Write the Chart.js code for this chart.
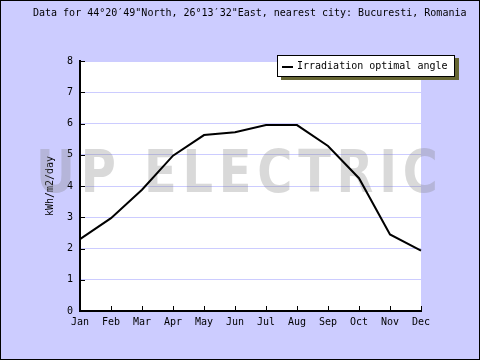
<!DOCTYPE html>
<html>
<head>
<meta charset="utf-8">
<script src="https://cdn.jsdelivr.net/npm/chart.js@4.4.1/dist/chart.umd.min.js"></script>
<style>
    body { margin: 0; background: #ccccff; }
    canvas { display: block; }
</style>
</head>
<body>
<canvas id="Chart1" width="480" height="360"></canvas>
<script>
const months = ['Jan', 'Feb', 'Mar', 'Apr', 'May', 'Jun', 'Jul', 'Aug', 'Sep', 'Oct', 'Nov', 'Dec'];
const irradiation = [2.30, 2.97, 3.88, 4.97, 5.63, 5.72, 5.95, 5.95, 5.28, 4.25, 2.45, 1.93];
const seriesLabel = 'Irradiation optimal angle';
const chartTitle = 'Data for 44°20′49"North, 26°13′32"East, nearest city: Bucuresti, Romania';
const yAxisTitle = 'kWh/m2/day';
const watermark = 'UP ELECTRIC';

const mono = "'DejaVu Sans Mono', monospace";

// backgrounds: lavender page, white plot area
const backgroundPlugin = {
    id: 'bg',
    beforeDraw: function (chart) {
        const ctx = chart.ctx;
        const a = chart.chartArea;
        ctx.save();
        ctx.fillStyle = '#ccccff';
        ctx.fillRect(0, 0, chart.width, chart.height);
        ctx.fillStyle = '#ffffff';
        ctx.fillRect(a.left, a.top, a.right - a.left, a.bottom - a.top);
        ctx.restore();
    }
};

// grey "UP ELECTRIC" stamp behind the line
const watermarkPlugin = {
    id: 'watermark',
    beforeDatasetsDraw: function (chart) {
        const ctx = chart.ctx;
        ctx.save();
        ctx.font = "bold 50px 'DejaVu Sans', sans-serif";
        ctx.letterSpacing = '6px';
        ctx.textBaseline = 'alphabetic';
        const w = ctx.measureText(watermark).width - 6;
        ctx.translate(36, 192);
        ctx.scale(402 / w, 43 / 36.5);
        ctx.fillStyle = 'rgba(128,128,128,0.3)';
        ctx.fillText(watermark, 0, 0);
        ctx.restore();
    }
};

// inward tick marks, legend box, title, frame
const extrasPlugin = {
    id: 'extras',
    afterDraw: function (chart) {
        const ctx = chart.ctx;
        const a = chart.chartArea;
        const xs = chart.scales.x;
        const ys = chart.scales.y;
        ctx.save();
        ctx.strokeStyle = '#000';
        ctx.lineWidth = 1;
        ctx.beginPath();
        for (let i = 0; i < ys.ticks.length; i++) {
            const y = Math.round(ys.getPixelForTick(i)) + 0.5;
            ctx.moveTo(a.left, y);
            ctx.lineTo(a.left + 5, y);
        }
        for (let i = 0; i < xs.ticks.length; i++) {
            const x = Math.round(xs.getPixelForTick(i)) + 0.5;
            ctx.moveTo(x, a.bottom);
            ctx.lineTo(x, a.bottom - 5);
        }
        ctx.stroke();

        // legend
        ctx.fillStyle = '#666633';
        ctx.fillRect(281, 58, 178, 22);
        ctx.fillStyle = '#ffffff';
        ctx.fillRect(277, 55, 178, 22);
        ctx.strokeRect(277.5, 55.5, 177, 21);
        ctx.lineWidth = 2;
        ctx.beginPath();
        ctx.moveTo(282, 67);
        ctx.lineTo(293, 67);
        ctx.stroke();
        ctx.fillStyle = '#000';
        ctx.font = '10px ' + mono;
        ctx.textBaseline = 'middle';
        ctx.textAlign = 'left';
        ctx.fillText(chart.data.datasets[0].label, 297, 66);

        // title
        ctx.fillText(chartTitle, 33, 13);

        // outer frame
        ctx.lineWidth = 1;
        ctx.strokeRect(0.5, 0.5, chart.width - 1, chart.height - 1);
        ctx.restore();
    }
};

window.onload = function () {
    const ctx = document.getElementById('Chart1').getContext('2d');
    new Chart(ctx, {
        type: 'line',
        data: {
            labels: months,
            datasets: [{
                    label: seriesLabel,
                    data: irradiation,
                    borderColor: '#000000',
                    borderWidth: 2,
                    pointRadius: 0,
                    tension: 0,
                    fill: false
                }]
        },
        options: {
            responsive: false,
            animation: false,
            devicePixelRatio: 1,
            layout: {padding: {top: 61, right: 59, bottom: 0, left: 0}},
            plugins: {
                legend: {display: false},
                title: {display: false},
                tooltip: {enabled: false}
            },
            scales: {
                x: {
                    offset: false,
                    grid: {display: false, drawTicks: false},
                    border: {display: true, color: '#000', width: 2},
                    ticks: {
                        color: '#000',
                        font: {family: mono, size: 10},
                        padding: 5,
                        maxRotation: 0,
                        autoSkip: false
                    },
                    afterFit: function (s) { s.height = 49; }
                },
                y: {
                    min: 0,
                    max: 8,
                    grid: {color: '#ccccff', lineWidth: 1, drawTicks: false},
                    border: {display: true, color: '#000', width: 2},
                    ticks: {
                        stepSize: 1,
                        color: '#000',
                        font: {family: mono, size: 10},
                        padding: 7
                    },
                    title: {
                        display: true,
                        text: yAxisTitle,
                        color: '#000',
                        font: {family: mono, size: 10},
                        padding: {top: 44, bottom: 0}
                    },
                    afterFit: function (s) { s.width = 80; }
                }
            }
        },
        plugins: [backgroundPlugin, watermarkPlugin, extrasPlugin]
    });
};
</script>
</body>
</html>
